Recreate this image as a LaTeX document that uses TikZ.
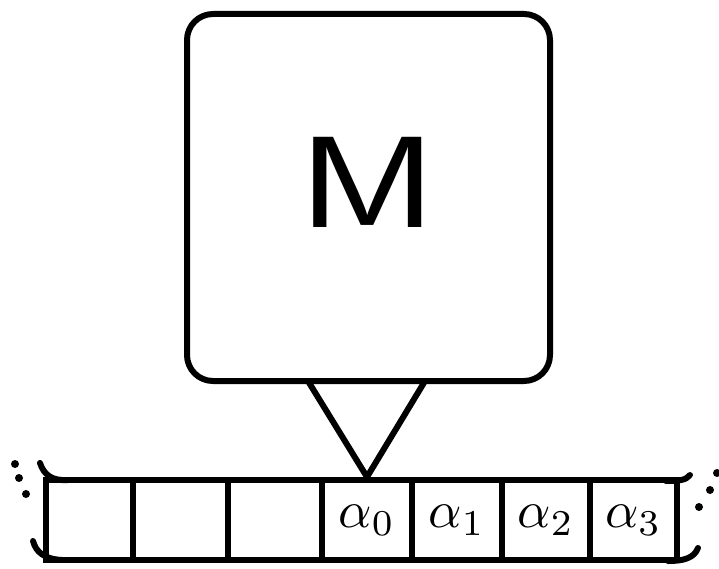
\documentclass[tikz,border=0pt]{standalone}
\usepackage{fontspec}
\usepackage{graphicx}
\newcommand{\bigsym}[1]{\scalebox{5.2}{$#1$}}
\begin{document}
\begin{tikzpicture}[x=1pt,y=-1pt,
  ink/.style={line width=6pt,line cap=round,line join=round},
  cell/.style={draw,line width=6pt,minimum height=80pt,inner sep=0pt,anchor=center},
  dot/.style={fill,circle,inner sep=0pt,minimum size=8pt}]
\useasboundingbox (0,0) rectangle (719,569);
% head box
\node[ink,draw,rounded corners=26pt,minimum width=363pt,minimum height=367pt] (head) at (368.5,197.5) {};
\node[font=\sffamily\fontsize{130}{130}\selectfont,inner sep=0pt] (mtext) at (368,182) {\scalebox{1.3}[1]{M}};
% tape cells
\node[cell,minimum width=87pt] (c1) at (89.5,520) {};
\node[cell,minimum width=95pt] (c2) at (180.5,520) {};
\node[cell,minimum width=94pt] (c3) at (275,520) {};
\node[cell,minimum width=90pt] (c4) at (367,520) {\bigsym{\alpha_0}};
\node[cell,minimum width=90pt] (c5) at (457,520) {\bigsym{\alpha_1}};
\node[cell,minimum width=88pt] (c6) at (546,520) {\bigsym{\alpha_2}};
\node[cell,minimum width=87pt] (c7) at (633.5,520) {\bigsym{\alpha_3}};
% pointer triangle
\coordinate (tl) at (308,381);
\coordinate (tr) at (425,381);
\draw[ink] (tl) -- (c4.north) -- (tr);
% curls
\draw[ink] (40,463) .. controls (44,475) and (52,481) .. (68,480);
\draw[ink] (33,541) .. controls (36,552) and (44,559) .. (62,560);
\draw[ink] (666,481) .. controls (680,481) and (686,480) .. (690,475);
\draw[ink] (668,561) .. controls (684,561) and (694,558) .. (698,548);
% dots
\node[dot] (l1) at (15,464) {};
\node[dot] (l2) at (19,478) {};
\node[dot] (l3) at (26,494) {};
\node[dot] (r1) at (717,473) {};
\node[dot] (r2) at (710,490) {};
\node[dot] (r3) at (699,507) {};
\end{tikzpicture}
\end{document}
